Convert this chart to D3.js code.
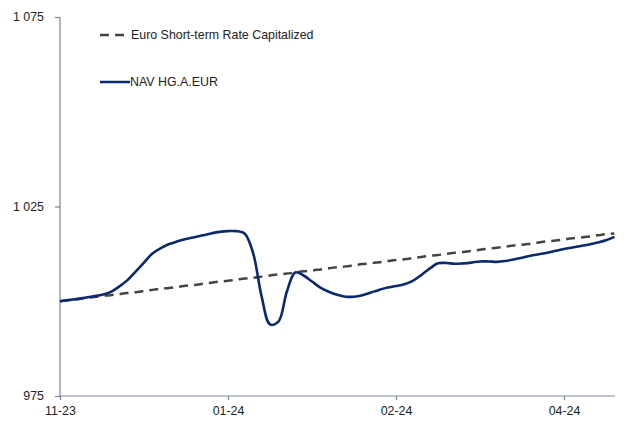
<!DOCTYPE html>
<html>
<head>
<meta charset="utf-8">
<script src="https://cdn.jsdelivr.net/npm/d3@7"></script>
<style>
  body { margin: 0; background: #fff; }
  svg { display: block; font-family: 'Liberation Sans', Arial, sans-serif; }
</style>
</head>
<body>
<svg id="chart"></svg>
<script>
// tick labels on the category axis (every 20 points)
const xTickIndex = [0, 20, 40, 60]
const xTickLabels = ['11-23', '01-24', '02-24', '04-24']
const yTicks = [975, 1025, 1075]

// NAV HG.A.EUR, one value per point
const nav = [
  1000.0, 1000.3, 1000.6, 1000.9, 1001.3, 1001.7, 1002.4, 1003.8, 1005.5, 1007.8,
  1010.2, 1012.6, 1014.0, 1015.1, 1015.8, 1016.4, 1016.9, 1017.4, 1017.9, 1018.3,
  1018.5, 1018.5, 1017.8, 1012.6, 1001.3, 993.9, 994.6, 1002.5, 1007.6, 1006.8,
  1005.2, 1003.6, 1002.5, 1001.7, 1001.2, 1001.2, 1001.6, 1002.3, 1003.0, 1003.6,
  1004.0, 1004.5, 1005.4, 1006.9, 1008.6, 1010.0, 1010.1, 1009.9, 1010.0, 1010.2,
  1010.5, 1010.5, 1010.4, 1010.6, 1011.0, 1011.5, 1012.0, 1012.4, 1012.8, 1013.3,
  1013.8, 1014.2, 1014.6, 1015.0, 1015.5, 1016.1, 1017.0
]
// Euro Short-term Rate Capitalized
const estr = [
  1000.0, 1000.3, 1000.5, 1000.8, 1001.1, 1001.4, 1001.6, 1001.9, 1002.2, 1002.4,
  1002.7, 1003.0, 1003.3, 1003.5, 1003.8, 1004.1, 1004.3, 1004.6, 1004.9, 1005.2,
  1005.4, 1005.7, 1006.0, 1006.2, 1006.5, 1006.8, 1007.1, 1007.3, 1007.6, 1007.9,
  1008.1, 1008.4, 1008.7, 1009.0, 1009.2, 1009.5, 1009.8, 1010.0, 1010.3, 1010.6,
  1010.9, 1011.1, 1011.4, 1011.7, 1012.0, 1012.2, 1012.5, 1012.8, 1013.0, 1013.3,
  1013.6, 1013.9, 1014.1, 1014.4, 1014.7, 1014.9, 1015.2, 1015.5, 1015.8, 1016.0,
  1016.3, 1016.6, 1016.8, 1017.1, 1017.4, 1017.7, 1017.9
]

const width = 632
const height = 421
const padding = { top: 17, right: 17, bottom: 25, left: 60 }
const axisColor = '#7b8696'
const fontSize = 12.4

const svg = d3.select('#chart').attr('width', width).attr('height', height)

const xScale = d3.scaleLinear()
  .domain([0, nav.length - 1])
  .range([padding.left, width - padding.right - 0.6])
const yScale = d3.scaleLinear()
  .domain([975, 1075])
  .range([height - padding.bottom, padding.top])

// y axis
const yAxis = d3.axisLeft(yScale)
  .tickValues(yTicks)
  .tickSize(5)
  .tickPadding(11)
  .tickFormat(d => d3.format(',')(d).replace(',', ' '))
const yAxisG = svg.append('g')
  .attr('class', 'y-axis')
  .attr('transform', `translate(${padding.left},0)`)
  .call(yAxis)

// x axis
const xAxis = d3.axisBottom(xScale)
  .tickValues(xTickIndex)
  .tickSize(4)
  .tickPadding(6)
  .tickFormat((d, i) => xTickLabels[i])
const xAxisG = svg.append('g')
  .attr('class', 'x-axis')
  .attr('transform', `translate(0,${height - padding.bottom})`)
  .call(xAxis)

svg.selectAll('.domain, .tick line')
  .attr('stroke', axisColor)
  .attr('stroke-width', 1.2)
xAxisG.select('.domain').attr('d', `M${padding.left},0H${width - padding.right}`)
yAxisG.select('.domain').attr('d', `M0,${yScale(975)}V${yScale(1075)}`)
svg.selectAll('.tick text')
  .attr('font-size', fontSize)
  .attr('fill', '#222')
  .attr('font-family', "'Liberation Sans', Arial, sans-serif")

// lines
const line = d3.line()
  .x((d, i) => xScale(i))
  .y(d => yScale(d))
  .curve(d3.curveCatmullRom.alpha(0.5))

svg.append('path')
  .attr('d', line(estr))
  .attr('fill', 'none')
  .attr('stroke', '#444')
  .attr('stroke-width', 2.5)
  .attr('stroke-dasharray', '9,6')

svg.append('path')
  .attr('d', line(nav))
  .attr('fill', 'none')
  .attr('stroke', '#0b2a6e')
  .attr('stroke-width', 2.6)
  .attr('stroke-linejoin', 'round')

// legend
const legend = svg.append('g').attr('class', 'legend')
const legendItems = [
  { name: 'Euro Short-term Rate Capitalized', color: '#444', dash: '9,6', y: 35, x2: 125, tx: 131 },
  { name: 'NAV HG.A.EUR', color: '#0b2a6e', dash: null, y: 82, x2: 130, tx: 130 }
]
legendItems.forEach(item => {
  legend.append('line')
    .attr('x1', 100)
    .attr('x2', item.x2)
    .attr('y1', item.y)
    .attr('y2', item.y)
    .attr('stroke', item.color)
    .attr('stroke-width', 2.5)
    .attr('stroke-dasharray', item.dash)
  legend.append('text')
    .attr('x', item.tx)
    .attr('y', item.y)
    .attr('dy', '0.35em')
    .attr('font-size', fontSize)
    .attr('fill', '#222')
    .text(item.name)
})
</script>
</body>
</html>
